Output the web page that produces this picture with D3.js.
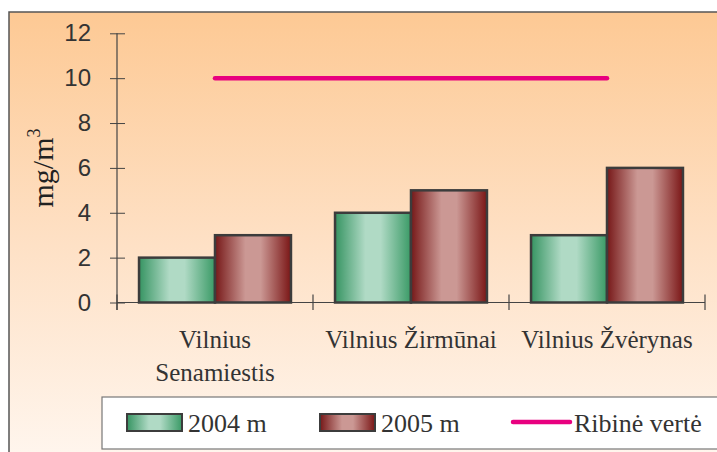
<!DOCTYPE html>
<html>
<head>
<meta charset="utf-8">
<script src="https://cdn.jsdelivr.net/npm/d3@7"></script>
<style>
  html, body { margin: 0; padding: 0; background: #ffffff; }
  svg { display: block; }
</style>
</head>
<body>
<svg id="chart" width="717" height="452"></svg>
<script>
// Stations (each label may wrap onto two lines)
const categories = [["Vilnius", "Senamiestis"], ["Vilnius Žirmūnai"], ["Vilnius Žvėrynas"]];
const seriesNames = ["2004 m", "2005 m"];
const values2004 = [2, 4, 3];
const values2005 = [3, 5, 6];
const limitValue = 10;
const limitLabel = "Ribinė vertė";
const yTicks = [0, 2, 4, 6, 8, 10, 12];
const yLabel = "mg/m";
const yLabelSup = "3";

const svg = d3.select("#chart");
const defs = svg.append("defs");

// Page background: warm peach fading to near white
const bg = defs.append("linearGradient").attr("id", "bgGrad")
  .attr("x1", 0).attr("y1", 0).attr("x2", 0).attr("y2", 1);
bg.append("stop").attr("offset", "0%").attr("stop-color", "#fdc994");
bg.append("stop").attr("offset", "45%").attr("stop-color", "#fee0c4");
bg.append("stop").attr("offset", "100%").attr("stop-color", "#fffbf8");

// Cylinder-like horizontal shading for the bars
function barGradient(id, edge, light, edge2) {
  const g = defs.append("linearGradient").attr("id", id)
    .attr("x1", 0).attr("y1", 0).attr("x2", 1).attr("y2", 0);
  g.append("stop").attr("offset", "0%").attr("stop-color", edge);
  g.append("stop").attr("offset", "40%").attr("stop-color", light);
  g.append("stop").attr("offset", "60%").attr("stop-color", light);
  g.append("stop").attr("offset", "100%").attr("stop-color", edge2);
}
barGradient("greenGrad", "#369462", "#b0dac5", "#3a9a66");
barGradient("brownGrad", "#761818", "#cb9894", "#7a1616");

const fills = ["url(#greenGrad)", "url(#brownGrad)"];

// Frame
svg.append("rect").attr("x", 9).attr("y", 12).attr("width", 760).attr("height", 500)
  .attr("fill", "url(#bgGrad)").attr("stroke", "#555").attr("stroke-width", 1.5);

// Scales
const x0 = d3.scaleBand().domain(d3.range(categories.length)).range([117, 705])
  .paddingInner(0).paddingOuter(0);
const x1 = d3.scaleBand().domain(seriesNames).range([0, x0.bandwidth()])
  .paddingInner(0).paddingOuter(0.29);
const y = d3.scaleLinear().domain([0, 12]).range([302.5, 33.3]);

const axisColor = "#444";

// Y axis (ticks cross the line)
const yAxis = svg.append("g").attr("transform", "translate(117,0)")
  .call(d3.axisLeft(y).tickValues(yTicks).tickSize(7).tickPadding(14));
yAxis.select(".domain").remove();
yAxis.selectAll(".tick line").attr("x2", -7).attr("x1", 8).attr("stroke", axisColor);
yAxis.selectAll(".tick text").attr("font-family", "Liberation Sans, Arial, sans-serif")
  .attr("font-size", 24).attr("fill", "#333").attr("dx", "-5");
svg.append("line").attr("x1", 117).attr("x2", 117).attr("y1", y(12)).attr("y2", 310)
  .attr("stroke", axisColor).attr("stroke-width", 1.2);

// X axis line and category separators
svg.append("line").attr("x1", 117).attr("x2", 705).attr("y1", y(0)).attr("y2", y(0))
  .attr("stroke", axisColor).attr("stroke-width", 1.2);
const sepX = d3.range(categories.length + 1).map(i =>
  i < categories.length ? x0(i) : x0(categories.length - 1) + x0.bandwidth());
svg.selectAll("line.sep").data(sepX).join("line").attr("class", "sep")
  .attr("x1", d => d).attr("x2", d => d).attr("y1", y(0) - 8).attr("y2", 310)
  .attr("stroke", axisColor).attr("stroke-width", 1.2);

// Category labels
const labels = svg.append("g");
categories.forEach((lines, i) => {
  const t = labels.append("text")
    .attr("x", x0(i) + x0.bandwidth() / 2).attr("y", 348)
    .attr("text-anchor", "middle")
    .attr("font-family", "Liberation Serif, Times New Roman, serif")
    .attr("font-size", 25).attr("fill", "#333");
  lines.forEach((ln, j) => {
    t.append("tspan").attr("x", x0(i) + x0.bandwidth() / 2)
      .attr("dy", j === 0 ? 0 : 33).text(ln);
  });
});

// Bars
const groups = svg.append("g").selectAll("g")
  .data(d3.range(categories.length)).join("g")
  .attr("transform", i => `translate(${x0(i)},0)`);
groups.selectAll("rect")
  .data(i => [values2004[i], values2005[i]].map((v, k) => ({ v, k })))
  .join("rect")
  .attr("x", d => x1(seriesNames[d.k]))
  .attr("y", d => y(d.v))
  .attr("width", x1.bandwidth())
  .attr("height", d => y(0) - y(d.v))
  .attr("fill", d => fills[d.k])
  .attr("stroke", "#3c3c3c").attr("stroke-width", 2.5);

// Limit value line
svg.append("line")
  .attr("x1", x0(0) + x0.bandwidth() / 2)
  .attr("x2", x0(categories.length - 1) + x0.bandwidth() / 2)
  .attr("y1", y(limitValue)).attr("y2", y(limitValue))
  .attr("stroke", "#e8007f").attr("stroke-width", 4.5).attr("stroke-linecap", "round");

// Y axis title
const yt = svg.append("text")
  .attr("transform", "translate(53,168) rotate(-90)")
  .attr("text-anchor", "middle")
  .attr("font-family", "Liberation Serif, Times New Roman, serif")
  .attr("font-size", 30).attr("fill", "#222");
yt.append("tspan").text(yLabel);
yt.append("tspan").attr("font-size", 18).attr("dy", -13).text(yLabelSup);

// Legend
const legend = svg.append("g");
legend.append("rect").attr("x", 102).attr("y", 397).attr("width", 640).attr("height", 52)
  .attr("fill", "#ffffff").attr("stroke", "#777").attr("stroke-width", 1.2);
const legendFont = "Liberation Serif, Times New Roman, serif";
const swatchX = [127, 320];
seriesNames.forEach((name, k) => {
  legend.append("rect").attr("x", swatchX[k]).attr("y", 414).attr("width", 55).attr("height", 17)
    .attr("fill", fills[k]).attr("stroke", "#3c3c3c").attr("stroke-width", 2);
  legend.append("text").attr("x", swatchX[k] + 61).attr("y", 432)
    .attr("font-family", legendFont).attr("font-size", 26).attr("fill", "#333").text(name);
});
legend.append("line").attr("x1", 513).attr("x2", 570).attr("y1", 422).attr("y2", 422)
  .attr("stroke", "#e8007f").attr("stroke-width", 4.5).attr("stroke-linecap", "round");
legend.append("text").attr("x", 574).attr("y", 432)
  .attr("font-family", legendFont).attr("font-size", 26).attr("fill", "#333").text(limitLabel);
</script>
</body>
</html>
